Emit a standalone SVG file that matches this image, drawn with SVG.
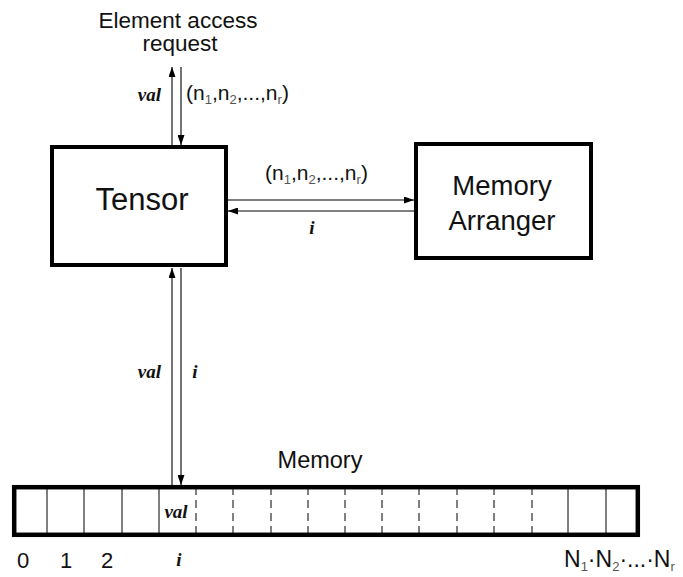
<svg xmlns="http://www.w3.org/2000/svg" width="683" height="577" viewBox="0 0 683 577">
  <style>
    .box { fill: #fff; stroke: #000; stroke-width: 4; }
    .cell { stroke: #000; stroke-width: 1; fill: none; }
    .dash { stroke-dasharray: 8 5; }
    .wire { stroke: #000; stroke-width: 1.1; fill: none; }
    .sans { font-family: "Liberation Sans", Arial, Helvetica, sans-serif; fill: #111; }
    .var { font-family: "Liberation Serif", "Times New Roman", serif; font-style: italic; font-weight: bold; font-size: 19px; fill: #111; }
    .sub { font-size: 13px; fill: #555; }
  </style>
  <defs>
    <marker id="head" markerUnits="userSpaceOnUse" markerWidth="10" markerHeight="7" refX="10" refY="3.5" orient="auto">
      <path d="M0,0 L10,3.5 L0,7 Z" fill="#000"/>
    </marker>
  </defs>
  <rect width="683" height="577" fill="#fff"/>

  <!-- request label -->
  <g id="request">
    <text class="sans" x="178" y="28" font-size="22.5" text-anchor="middle">Element access</text>
    <text class="sans" x="180" y="51" font-size="22.5" text-anchor="middle">request</text>
  </g>

  <!-- tensor node -->
  <g id="tensor">
    <rect class="box" x="52" y="147" width="174" height="118"/>
    <text class="sans" x="142" y="210" font-size="31" text-anchor="middle">Tensor</text>
  </g>

  <!-- memory arranger node -->
  <g id="arranger">
    <rect class="box" x="416" y="144" width="175" height="114"/>
    <text class="sans" x="502" y="195" font-size="27.5" text-anchor="middle">Memory</text>
    <text class="sans" x="502" y="230" font-size="27.5" text-anchor="middle">Arranger</text>
  </g>

  <!-- memory array -->
  <g id="memory">
    <text class="sans" x="320" y="468" font-size="23.5" text-anchor="middle">Memory</text>
    <g class="cell">
      <line x1="47" y1="487" x2="47" y2="535"/>
      <line x1="84" y1="487" x2="84" y2="535"/>
      <line x1="122" y1="487" x2="122" y2="535"/>
      <line x1="159" y1="487" x2="159" y2="535"/>
      <line x1="568" y1="487" x2="568" y2="535"/>
      <line x1="606" y1="487" x2="606" y2="535"/>
    </g>
    <g class="cell dash">
      <line x1="196" y1="487" x2="196" y2="535"/>
      <line x1="233" y1="487" x2="233" y2="535"/>
      <line x1="271" y1="487" x2="271" y2="535"/>
      <line x1="308" y1="487" x2="308" y2="535"/>
      <line x1="345" y1="487" x2="345" y2="535"/>
      <line x1="382" y1="487" x2="382" y2="535"/>
      <line x1="419" y1="487" x2="419" y2="535"/>
      <line x1="457" y1="487" x2="457" y2="535"/>
      <line x1="494" y1="487" x2="494" y2="535"/>
      <line x1="532" y1="487" x2="532" y2="535"/>
    </g>
    <rect x="14.2" y="487.2" width="623.6" height="47.6" fill="none" stroke="#000" stroke-width="4.5"/>
    <text class="var" x="176" y="518" text-anchor="middle">val</text>
    <text class="sans" x="23" y="568" font-size="22" text-anchor="middle">0</text>
    <text class="sans" x="66" y="568" font-size="22" text-anchor="middle">1</text>
    <text class="sans" x="107" y="568" font-size="22" text-anchor="middle">2</text>
    <text class="var" x="179" y="566" text-anchor="middle">i</text>
    <text class="sans" x="564" y="567" font-size="23">N<tspan class="sub" font-size="14" dy="4">1</tspan><tspan dy="-4">·N</tspan><tspan class="sub" font-size="14" dy="4">2</tspan><tspan dy="-4">·...·N</tspan><tspan class="sub" font-size="14" dy="4">r</tspan></text>
  </g>

  <!-- connectors -->
  <g id="connectors">
    <line class="wire" x1="172" y1="145" x2="172" y2="67" marker-end="url(#head)"/>
    <line class="wire" x1="181" y1="67" x2="181" y2="145" marker-end="url(#head)"/>
    <line class="wire" x1="228" y1="200" x2="414" y2="200" marker-end="url(#head)"/>
    <line class="wire" x1="414" y1="211" x2="228" y2="211" marker-end="url(#head)"/>
    <line class="wire" x1="172" y1="485" x2="172" y2="268" marker-end="url(#head)"/>
    <line class="wire" x1="181" y1="268" x2="181" y2="485" marker-end="url(#head)"/>

    <text class="var" x="161" y="101" text-anchor="end">val</text>
    <text class="sans" x="186" y="100" font-size="21">(n<tspan class="sub" dy="4">1</tspan><tspan dy="-4">,n</tspan><tspan class="sub" dy="4">2</tspan><tspan dy="-4">,...,n</tspan><tspan class="sub" dy="4">r</tspan><tspan dy="-4">)</tspan></text>

    <text class="sans" x="265" y="180" font-size="21">(n<tspan class="sub" dy="4">1</tspan><tspan dy="-4">,n</tspan><tspan class="sub" dy="4">2</tspan><tspan dy="-4">,...,n</tspan><tspan class="sub" dy="4">r</tspan><tspan dy="-4">)</tspan></text>
    <text class="var" x="312" y="234" text-anchor="middle">i</text>

    <text class="var" x="161" y="378" text-anchor="end">val</text>
    <text class="var" x="195" y="378" text-anchor="middle">i</text>
  </g>
</svg>
